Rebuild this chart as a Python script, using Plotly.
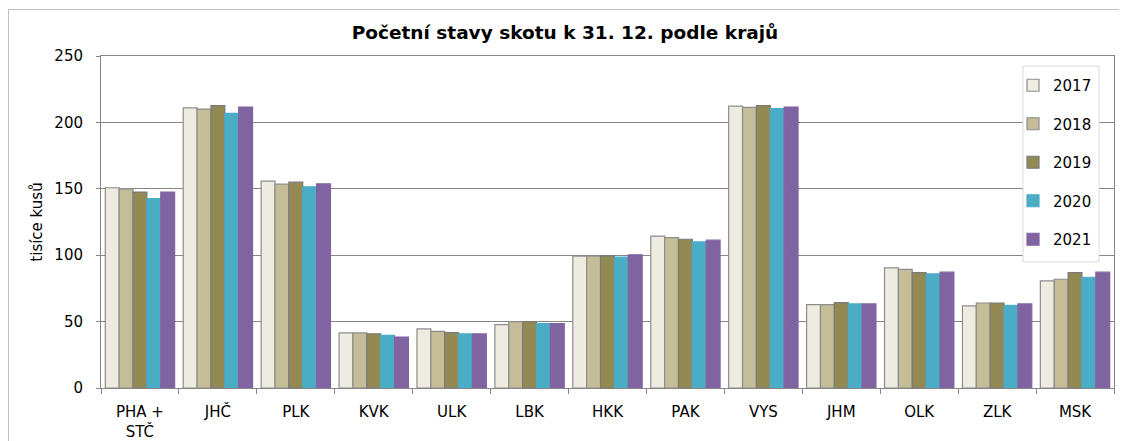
import plotly.graph_objects as go

categories = ["PHA +<br>STČ", "JHČ", "PLK", "KVK", "ULK", "LBK", "HKK", "PAK", "VYS", "JHM", "OLK", "ZLK", "MSK"]
years = ["2017", "2018", "2019", "2020", "2021"]
v2017 = [150.8, 211.0, 155.8, 41.5, 44.5, 47.7, 99.2, 114.3, 212.3, 62.8, 90.5, 61.8, 80.7]
v2018 = [150.0, 210.0, 153.5, 41.5, 42.7, 50.0, 99.2, 113.3, 211.3, 62.8, 89.4, 64.0, 81.9]
v2019 = [147.5, 212.6, 155.0, 40.7, 41.7, 50.0, 99.5, 112.0, 212.6, 64.3, 86.9, 64.0, 86.9]
v2020 = [142.7, 206.8, 151.5, 39.7, 40.7, 48.5, 98.5, 110.0, 210.3, 63.3, 85.9, 62.3, 83.4]
v2021 = [147.5, 211.6, 153.8, 38.4, 40.7, 48.5, 100.3, 111.3, 211.6, 63.3, 87.2, 63.3, 87.2]
series = [v2017, v2018, v2019, v2020, v2021]

colors = ["#EEECE1", "#C4BD97", "#938953", "#4BACC6", "#8064A2"]
borders = ["#8c8c8c", "#8c8c8c", "#7a7a7a", "#4BACC6", "#8064A2"]

FONT = "DejaVu Sans"
W, H = 1119, 433          # page body has an 8px margin
OFF = 8
L, R, T, B = 93, 13, 48, 53
PW, PH = W - L - R, H - T - B


def px_x(sx):
    return (sx - OFF - L) / PW


def px_y(sy):
    return (PH + T - (sy - OFF)) / PH


fig = go.Figure()
for y, vals, c, b in zip(years, series, colors, borders):
    fig.add_trace(go.Bar(
        name=y, x=categories, y=vals, legendgroup=y,
        marker=dict(color=c, line=dict(color=b, width=1.2)),
    ))

fig.update_layout(
    width=W, height=H,
    margin=dict(l=L, r=R, t=T, b=B, autoexpand=False),
    paper_bgcolor="white", plot_bgcolor="white",
    barmode="group", bargap=0.11, bargroupgap=0,
    font=dict(family=FONT, size=15, color="#000000"),
    title=dict(text="<b>Početní stavy skotu k 31. 12. podle krajů</b>",
               x=(565 - OFF) / W, xref="container", xanchor="center",
               y=1 - 25 / H, yref="container", yanchor="middle",
               font=dict(family=FONT, size=18.5, color="#000000")),
    showlegend=True,
    legend=dict(x=px_x(1013), y=px_y(69), xanchor="left", yanchor="top",
                bgcolor="rgba(0,0,0,0)", borderwidth=0,
                font=dict(family=FONT, size=15),
                traceorder="grouped", tracegroupgap=16,
                itemwidth=30),
    xaxis=dict(showline=True, linecolor="#868686", linewidth=1, mirror=True,
               ticks="outside", tickson="boundaries", ticklen=5, tickcolor="#868686",
               ticklabelstandoff=10,
               tickfont=dict(family=FONT, size=15), showgrid=False),
    yaxis=dict(range=[0, 250], dtick=50, showline=True, linecolor="#868686", linewidth=1, mirror=True,
               ticks="outside", ticklen=4, tickcolor="#868686",
               ticklabelstandoff=10,
               showgrid=True, gridcolor="#868686", gridwidth=1,
               tickfont=dict(family=FONT, size=15),
               title=dict(text="tisíce kusů", font=dict(family=FONT, size=15), standoff=8)),
    shapes=[
        dict(type="rect", xref="paper", yref="paper",
             x0=px_x(8.5), x1=1.2, y0=-0.5, y1=px_y(9.5),
             line=dict(color="#bfbfbf", width=1), fillcolor="rgba(0,0,0,0)", layer="below"),
        dict(type="rect", xref="paper", yref="paper",
             x0=px_x(1023), x1=px_x(1099), y0=px_y(262), y1=px_y(66),
             line=dict(color="#d9d9d9", width=1), fillcolor="white", layer="above"),
    ],
)

fig.write_html("out.html")
